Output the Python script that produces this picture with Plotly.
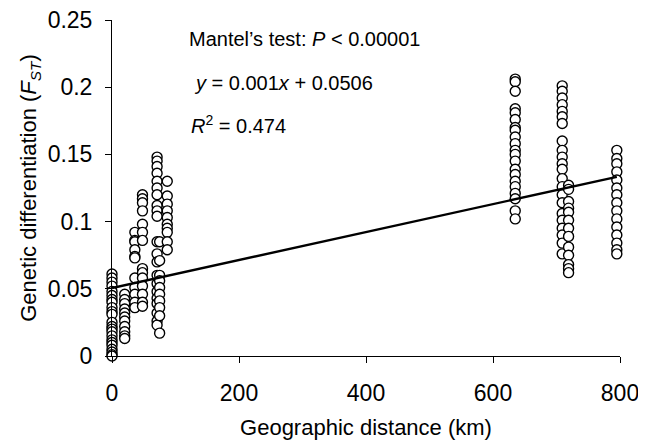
import plotly.graph_objects as go

# ---- data ----
dist_km = [0, 20, 36, 48, 71, 75, 87, 635, 709, 719, 795]
fst_0 = [0.061, 0.058, 0.055, 0.052, 0.048, 0.045, 0.042, 0.040, 0.036, 0.033, 0.031,
         0.025, 0.022, 0.020, 0.018, 0.015, 0.012, 0.010, 0.008, 0.005, 0.003, 0.001, 0.0]
fst_20 = [0.046, 0.042, 0.039, 0.035, 0.032, 0.029, 0.026, 0.022, 0.018, 0.015, 0.013]
fst_36 = [0.092, 0.086, 0.085, 0.079, 0.074, 0.073, 0.058, 0.051, 0.046, 0.040, 0.036]
fst_48 = [0.120, 0.117, 0.114, 0.108, 0.098, 0.092, 0.086, 0.065, 0.062, 0.058, 0.052,
          0.046, 0.040, 0.037]
fst_71 = [0.148, 0.145, 0.141, 0.136, 0.130, 0.125, 0.120, 0.112, 0.108, 0.104, 0.085,
          0.076, 0.070, 0.060, 0.054, 0.048, 0.043, 0.039, 0.032, 0.026, 0.023]
fst_75 = [0.085, 0.071, 0.060, 0.056, 0.051, 0.046, 0.041, 0.036, 0.030, 0.017]
fst_87 = [0.130, 0.119, 0.113, 0.108, 0.103, 0.098, 0.095, 0.092, 0.085, 0.079]
fst_635 = [0.206, 0.204, 0.197, 0.184, 0.181, 0.176, 0.170, 0.168, 0.163, 0.158, 0.153,
           0.150, 0.145, 0.139, 0.135, 0.130, 0.126, 0.121, 0.117, 0.108, 0.102]
fst_709 = [0.201, 0.197, 0.192, 0.187, 0.182, 0.178, 0.173, 0.160, 0.153, 0.148, 0.143,
           0.139, 0.132, 0.126, 0.120, 0.114, 0.106, 0.101, 0.095, 0.090, 0.084, 0.076]
fst_719 = [0.127, 0.124, 0.115, 0.110, 0.107, 0.101, 0.095, 0.089, 0.081, 0.075, 0.068,
           0.065, 0.062]
fst_795 = [0.153, 0.147, 0.143, 0.137, 0.131, 0.125, 0.120, 0.114, 0.108, 0.102, 0.096,
           0.090, 0.084, 0.079, 0.076]
fst_groups = [fst_0, fst_20, fst_36, fst_48, fst_71, fst_75, fst_87,
              fst_635, fst_709, fst_719, fst_795]

fit_x = [0, 795]
fit_intercept = 0.0506
fit_slope = 0.000104

x_ticks = [0, 200, 400, 600, 800]
y_ticks = [0, 0.05, 0.1, 0.15, 0.2, 0.25]
y_ticktext = ["0", "0.05", "0.1", "0.15", "0.2", "0.25"]

xs, ys = [], []
for d, vals in zip(dist_km, fst_groups):
    xs += [d] * len(vals)
    ys += vals

FONT = "Liberation Sans, Arial, sans-serif"

fig = go.Figure()
fig.add_trace(go.Scatter(
    x=xs, y=ys, mode="markers", cliponaxis=False,
    marker=dict(symbol="circle", size=10, color="white",
                line=dict(color="black", width=1.4)),
    showlegend=False, hoverinfo="skip"))
fig.add_trace(go.Scatter(
    x=fit_x, y=[fit_intercept + fit_slope * v for v in fit_x],
    mode="lines", line=dict(color="black", width=2.4),
    cliponaxis=False, showlegend=False, hoverinfo="skip"))

ann_font = dict(family=FONT, size=20, color="black")
fig.add_annotation(x=118, y=0.236, xref="x", yref="y", xanchor="left", yanchor="middle",
                   text="Mantel’s test: <i>P</i> < 0.00001", showarrow=False, font=ann_font)
fig.add_annotation(x=126, y=0.203, xref="x", yref="y", xanchor="left", yanchor="middle",
                   text="<i>y</i> = 0.001<i>x</i> + 0.0506", showarrow=False, font=ann_font)
fig.add_annotation(x=122, y=0.1725, xref="x", yref="y", xanchor="left", yanchor="middle",
                   text="<i>R</i><sup>2</sup> = 0.474", showarrow=False, font=ann_font)

fig.update_layout(
    width=646, height=443,
    margin=dict(l=104, r=34, t=12, b=95, autoexpand=False),
    paper_bgcolor="white", plot_bgcolor="white",
    font=dict(family=FONT, color="black"),
)
fig.update_xaxes(
    range=[0, 800], tickvals=x_ticks, ticks="outside", ticklen=6, tickwidth=1,
    tickcolor="black", showline=True, linecolor="black", linewidth=1,
    showgrid=False, zeroline=False, tickfont=dict(size=23, family=FONT),
    ticklabelstandoff=10, automargin=False, ticklabeloverflow="allow",
    title=dict(text="Geographic distance (km)", font=dict(size=22, family=FONT), standoff=15),
)
fig.update_yaxes(
    range=[0, 0.25], tickvals=y_ticks, ticktext=y_ticktext, ticks="outside", ticklen=6,
    tickwidth=1, tickcolor="black", showline=True, linecolor="black", linewidth=1,
    showgrid=False, zeroline=False, tickfont=dict(size=23, family=FONT),
    ticklabelstandoff=8, automargin=False, ticklabeloverflow="allow",
    title=dict(text="Genetic differentiation (<i>F</i><sub><i>ST</i></sub>)",
               font=dict(size=22, family=FONT), standoff=4),
)
fig.write_html("out.html")
